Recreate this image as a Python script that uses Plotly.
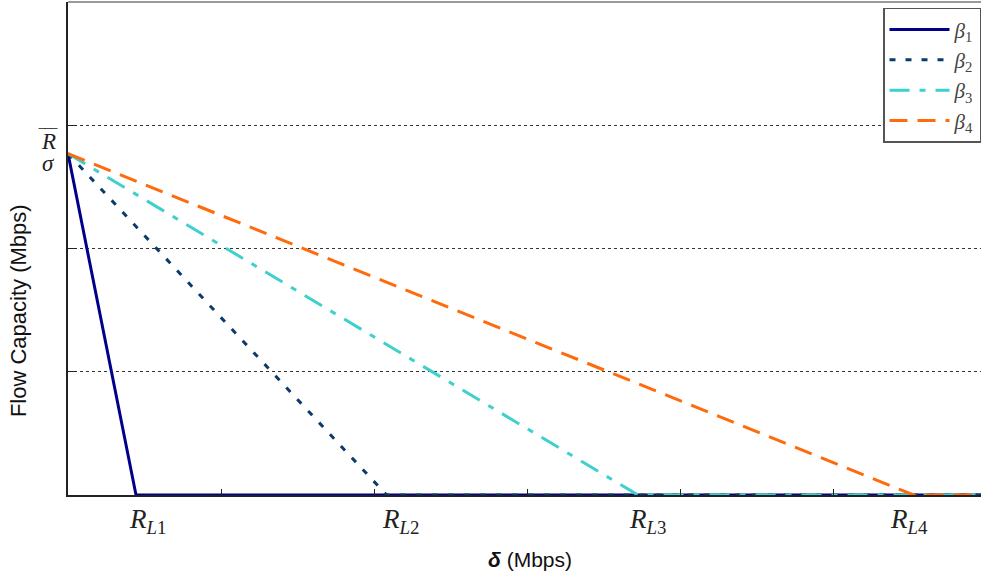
import plotly.graph_objects as go

# ---- data ----
series_names = ["<i>β</i><sub>1</sub>", "<i>β</i><sub>2</sub>", "<i>β</i><sub>3</sub>", "<i>β</i><sub>4</sub>"]
y_start = 2.77           # R/sigma level
x_zero = [0.444, 2.08, 3.72, 5.52]   # where each curve reaches zero (R_L1..R_L4)
x_max = 5.96
label_x = [0.52, 2.17, 3.78, 5.49]
label_text = ["<i>R</i><sub><i>L</i>1</sub>", "<i>R</i><sub><i>L</i>2</sub>",
              "<i>R</i><sub><i>L</i>3</sub>", "<i>R</i><sub><i>L</i>4</sub>"]
colors = ["#00008B", "#0B3A6B", "#3DD0CC", "#FF6A0D"]
dashes = ["solid", "6px,10px", "20px,10px,6px,10px", "18px,10px"]

fig = go.Figure()
for name, xz, c, d in zip(series_names, x_zero, colors, dashes):
    fig.add_trace(go.Scatter(
        x=[0, xz, x_max], y=[y_start, 0, 0], mode="lines", name=name,
        line=dict(color=c, width=3, dash=d),
    ))

serif = "Liberation Serif"
annotations = []
for lx, lt in zip(label_x, label_text):
    annotations.append(dict(x=lx, y=-0.015, xref="x", yref="paper", text=lt, showarrow=False,
                            font=dict(family=serif, size=27, color="#222"), yanchor="top"))
# R/sigma label: overlined R above sigma
annotations.append(dict(x=-0.021, y=y_start + 0.1, xref="paper", yref="y", text="<i>R</i>",
                        showarrow=False, xanchor="center", yanchor="middle",
                        font=dict(family=serif, size=23, color="#222")))
annotations.append(dict(x=-0.0215, y=y_start + 0.138, xref="paper", yref="y", text="‾‾‾",
                        showarrow=False, xanchor="center", yanchor="middle",
                        font=dict(family=serif, size=18, color="#222")))
annotations.append(dict(x=-0.021, y=y_start - 0.08, xref="paper", yref="y", text="<i>σ</i>",
                        showarrow=False, xanchor="center", yanchor="middle",
                        font=dict(family=serif, size=23, color="#222")))
annotations.append(dict(x=-0.0548, y=0.375, xref="paper", yref="paper", text="Flow Capacity (Mbps)",
                        textangle=-90, showarrow=False, xanchor="center", yanchor="middle",
                        font=dict(family="Liberation Sans", size=22, color="#111")))
annotations.append(dict(x=0.506, y=-0.13, xref="paper", yref="paper",
                        text="<b><i>δ</i></b> (Mbps)", showarrow=False, xanchor="center", yanchor="middle",
                        font=dict(family="Liberation Sans", size=21, color="#111")))

fig.update_layout(
    width=981, height=576,
    margin=dict(l=68, r=0, t=2, b=81, autoexpand=False),
    paper_bgcolor="white", plot_bgcolor="white",
    showlegend=True,
    legend=dict(x=1, xanchor="right", y=0.988, yanchor="top", bgcolor="white",
                bordercolor="#555", borderwidth=1.5, itemwidth=60,
                font=dict(family=serif, size=21, color="#444"),
                tracegroupgap=0),
    annotations=annotations,
    shapes=[
        dict(type="line", xref="paper", yref="paper", x0=0, x1=1, y0=1, y1=1,
             line=dict(color="#999", width=2)),
    ],
)
fig.update_xaxes(range=[0, x_max], tickvals=[1, 2, 3, 4, 5], showticklabels=False,
                 ticks="inside", ticklen=6, tickcolor="#222", showgrid=False, zeroline=False,
                 showline=True, linecolor="#222", linewidth=1.5)
fig.update_yaxes(range=[0, 4], tickvals=[1, 2, 3], showticklabels=False,
                 ticks="inside", ticklen=9, tickcolor="#222", showgrid=True,
                 gridcolor="#333", griddash="dot", gridwidth=1, zeroline=False,
                 showline=True, linecolor="#222", linewidth=1.5)

fig.write_html("out.html", config={"displayModeBar": False},
               post_script="document.body.style.margin='0px';")
